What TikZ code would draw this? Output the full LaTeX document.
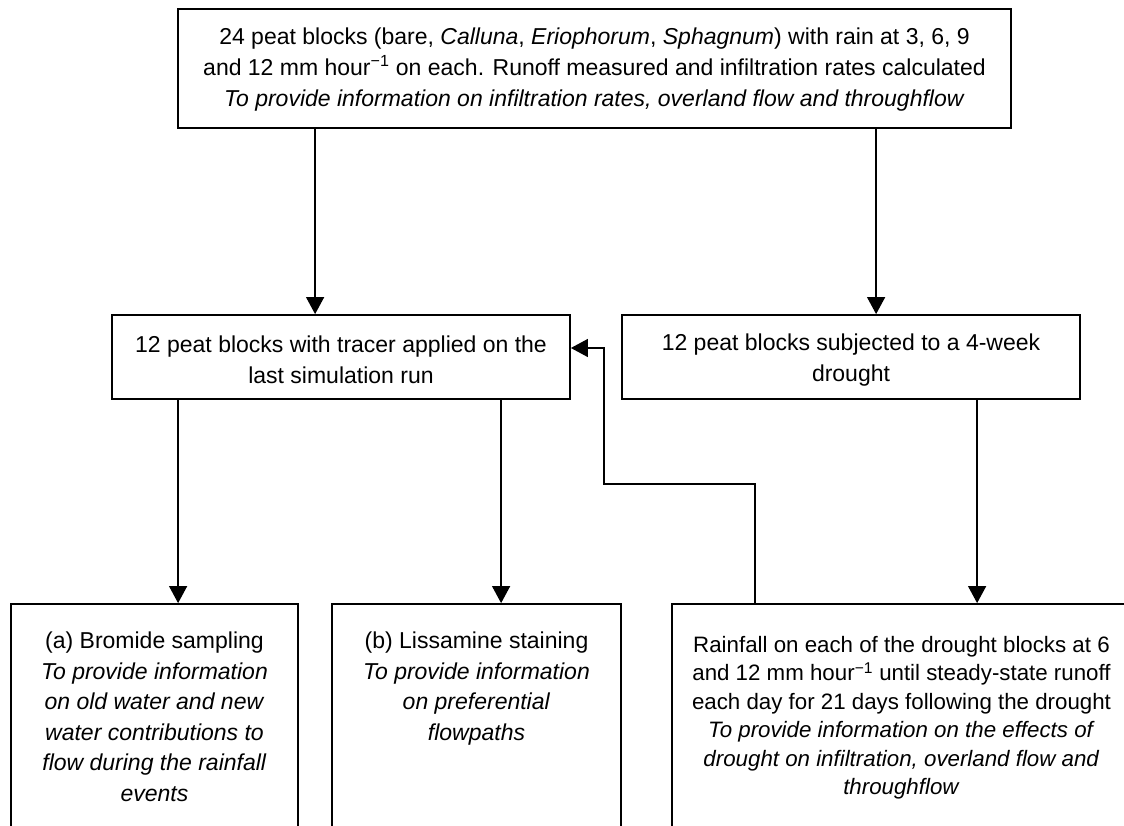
\documentclass[tikz,border=0pt]{standalone}
\usepackage{fontspec}
\setmainfont{Liberation Sans}
\usetikzlibrary{arrows.meta}
\begin{document}
\begin{tikzpicture}[x=1pt,y=-1pt,
  box/.style={draw, line width=1.8pt, inner sep=0pt},
  arr/.style={line width=1.3pt, -{Triangle[width=18pt,length=17pt]}},
  txt/.style={align=center, inner sep=0pt, font=\fontsize{23}{30.5}\selectfont},
  txts/.style={align=center, inner sep=0pt, font=\fontsize{22.3}{28.4}\selectfont}]
\useasboundingbox (0,0) rectangle (1124,826);
\fill[white] (0,0) rectangle (1124,826);
\newcommand{\hrinv}{hour\textsuperscript{\char"2212 1}}

% boxes
\node[box, minimum width=833pt, minimum height=119pt] (top) at (594.5,68.5) {};
\node[txt, font=\fontsize{23}{31}\selectfont] (toptxt) at (594.5,70) {24 peat blocks (bare, \textit{Calluna}, \textit{Eriophorum}, \textit{Sphagnum}) with rain at 3, 6, 9\\
and 12 mm \hrinv{} on each. Runoff measured and infiltration rates calculated\\
\textit{To provide information on infiltration rates, overland flow and throughflow}};

\node[box, minimum width=458pt, minimum height=84pt] (ml) at (341,357) {};
\node[txt] (mltxt) at (341,360) {12 peat blocks with tracer applied on the\\last simulation run};

\node[box, minimum width=458pt, minimum height=84pt] (mr) at (851,357) {};
\node[txt] (mrtxt) at (851,360) {12 peat blocks subjected to a 4-week\\drought};

\node[box, minimum width=287pt, minimum height=222.5pt] (bl) at (154.5,715.25) {};
\node[txt, anchor=north] (bltxt) at ([yshift=-29pt]bl.north) {(a) Bromide sampling\\
\textit{To provide information}\\
\textit{on old water and new}\\
\textit{water contributions to}\\
\textit{flow during the rainfall}\\
\textit{events}};

\node[box, minimum width=289pt, minimum height=222.5pt] (bm) at (476.5,715.25) {};
\node[txt, anchor=north] (bmtxt) at ([yshift=-29pt]bm.north) {(b) Lissamine staining\\
\textit{To provide information}\\
\textit{on preferential}\\
\textit{flowpaths}};

\node[box, minimum width=459pt, minimum height=222.5pt] (br) at (901.5,715.25) {};
\node[txts, anchor=north] (brtxt) at ([yshift=-33pt]br.north) {Rainfall on each of the drought blocks at 6\\
and 12 mm \hrinv{} until steady-state runoff\\
each day for 21 days following the drought\\
\textit{To provide information on the effects of}\\
\textit{drought on infiltration, overland flow and}\\
\textit{throughflow}};

% connectors
\draw[arr] ([xshift=138pt]top.south west) -- ([xshift=204pt]ml.north west);
\draw[arr] ([xshift=699pt]top.south west) -- ([xshift=255pt]mr.north west);
\draw[arr] ([xshift=67pt]ml.south west) -- ([xshift=168pt]bl.north west);
\draw[arr] ([xshift=390pt]ml.south west) -- ([xshift=170pt]bm.north west);
\draw[arr] ([xshift=356pt]mr.south west) -- ([xshift=306pt]br.north west);
\draw[arr] ([xshift=84pt]br.north west) |- (604,484) |- ([yshift=9pt]ml.east);
\end{tikzpicture}
\end{document}
